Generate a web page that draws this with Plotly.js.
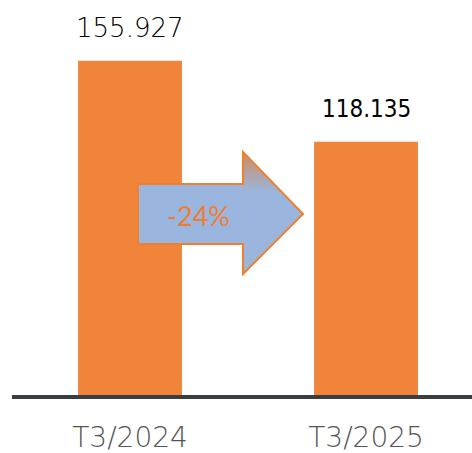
<!DOCTYPE html>
<html>
<head>
<meta charset="utf-8">
<script src="https://cdn.plot.ly/plotly-3.0.1.min.js"></script>
<style>html,body{margin:0;padding:0;background:#fff}#chart{width:472px;height:453px}</style>
</head>
<body>
<div id="chart"></div>
<script>
const categories = ["T3/2024", "T3/2025"];
const values = [155.927, 118.135];
const valueLabels = ["155.927", "118.135"];
const changeLabel = "-24%";

const W = 472, H = 453;
const L = 12, R = 0, T = 20, B = 58;
const pw = W - L - R, ph = H - T - B;
const px = x => (x - L) / pw;
const py = y => (H - B - y) / ph;

const orange = "#f0843b";
const labelFonts = [
  {family: "DejaVu Sans", size: 26, color: "#000", weight: 200},
  {family: "DejaVu Sans Condensed", size: 24, color: "#000", weight: 400}
];

// arrow outline in pixels
const arrowPts = [[138,184],[243,184],[243,152],[303,214],[243,274],[243,244],[138,244]];
const pathOf = pts => "M" + pts.map(p => px(p[0]).toFixed(5) + "," + py(p[1]).toFixed(5)).join("L") + "Z";

const shapes = [
  {type: "path", xref: "paper", yref: "paper", path: pathOf(arrowPts), fillcolor: "#9bb6de", line: {width: 0}, layer: "above"}
];
// gradient in arrow head top
const gTop = 152, gBot = 192, nStrips = 16;
const xr = y => 243 + (y - 152) * (60 / 62);
for (let i = 0; i < nStrips; i++) {
  const y1 = gTop + (gBot - gTop) * i / nStrips;
  const y2 = gTop + (gBot - gTop) * (i + 1) / nStrips;
  const op = 0.8 * (1 - (i + 0.5) / nStrips);
  shapes.push({type: "path", xref: "paper", yref: "paper",
    path: pathOf([[243, y1], [xr(y1), y1], [xr(y2), y2], [243, y2]]),
    fillcolor: "rgba(222,128,60," + op.toFixed(3) + ")", line: {width: 0}, layer: "above"});
}
shapes.push({type: "path", xref: "paper", yref: "paper", path: pathOf(arrowPts), fillcolor: "rgba(0,0,0,0)", line: {color: "#ee8030", width: 2}, layer: "above"});

const annotations = categories.map((c, i) => ({
  x: c, y: values[i], xref: "x", yref: "y", text: valueLabels[i], showarrow: false,
  yanchor: "middle", yshift: 33, font: labelFonts[i]
}));
annotations.push({xref: "paper", yref: "paper", x: px(198), y: py(216), text: changeLabel, showarrow: false,
  xanchor: "center", yanchor: "middle", font: {family: "Lato", size: 27, color: "#ee7d31"}});

Plotly.newPlot("chart", [{
  type: "bar", x: categories, y: values, width: 0.44,
  marker: {color: orange, line: {width: 0}}, hoverinfo: "none"
}], {
  width: W, height: H, margin: {l: L, r: R, t: T, b: B, pad: 0},
  paper_bgcolor: "#fff", plot_bgcolor: "#fff", showlegend: false,
  xaxis: {type: "category", range: [-0.5, 1.449], showline: true, linecolor: "#3b3e41", linewidth: 4,
    ticks: "", showgrid: false, zeroline: false, fixedrange: true, ticklabelstandoff: 14,
    tickfont: {family: "DejaVu Sans", size: 28, color: "#555", weight: 200}},
  yaxis: {range: [0, 175], visible: false, showgrid: false, zeroline: false, fixedrange: true},
  shapes: shapes, annotations: annotations
}, {staticPlot: true});
</script>
</body>
</html>
